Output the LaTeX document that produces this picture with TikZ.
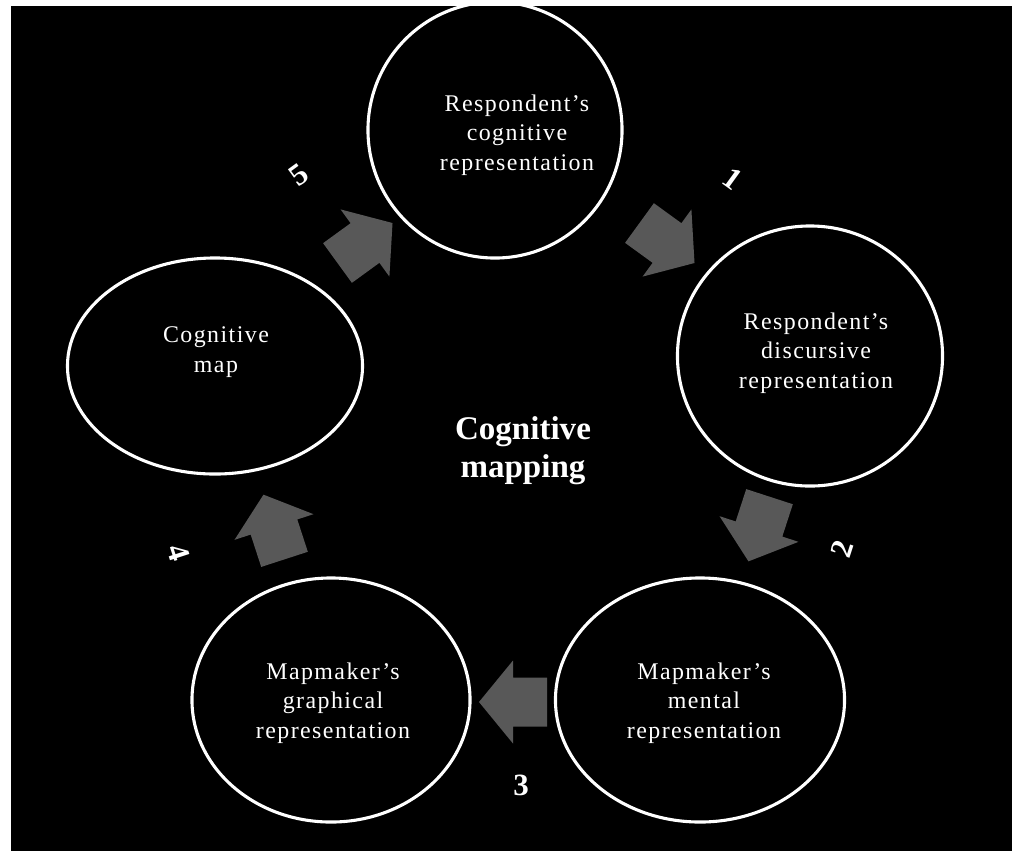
\documentclass[tikz,border=0pt]{standalone}
\usepackage{fontspec}
\setmainfont{Liberation Serif}
\newfontfamily\stagefont[LetterSpace=6]{Liberation Serif}
\usetikzlibrary{positioning,shapes.geometric}
\definecolor{arrowgrey}{RGB}{88,88,88}
\tikzset{
  stage/.style={draw=white, line width=2.2pt, shape=ellipse, inner sep=0pt},
  stagetext/.style={text=white, align=center, font=\stagefont\fontsize{17}{21}\selectfont},
  stepnum/.style={text=white, inner sep=0pt, font=\fontsize{22}{26}\selectfont\bfseries},
  cyclearrow/.pic={
    \fill[arrowgrey] (-0.85cm,-0.6125cm) -- (0cm,-0.6125cm) -- (0cm,-1.0375cm)
      -- (0.85cm,0cm) -- (0cm,1.0375cm) -- (0cm,0.6125cm) -- (-0.85cm,0.6125cm) -- cycle;
  }
}
\begin{document}
\begin{tikzpicture}[x=0.025cm, y=-0.025cm]

  % Background
  \fill[white] (0,0) rectangle (1012,851);
  \fill[black] (11,6) rectangle (1012,851);
  \useasboundingbox (0,0) rectangle (1012,851);

  % Stages
  \node[stage, minimum width=6.35cm, minimum height=6.4cm] (e1) at (495,130) {};
  \node[stagetext] (t1) at (517,135) {Respondent’s\\cognitive\\representation};

  \node[stage, minimum width=6.625cm, minimum height=6.5cm] (e2) at (810,356) {};
  \node[stagetext] (t2) at (816,353) {Respondent’s\\discursive\\representation};

  \node[stage, minimum width=7.225cm, minimum height=6.1cm] (e3) at (700,700) {};
  \node[stagetext] (t3) at (704,703) {Mapmaker’s\\mental\\representation};

  \node[stage, minimum width=6.95cm, minimum height=6.1cm] (e4) at (331,700) {};
  \node[stagetext] (t4) at (333,703) {Mapmaker’s\\graphical\\representation};

  \node[stage, minimum width=7.375cm, minimum height=5.4cm] (e5) at (215,366) {};
  \node[stagetext] (t5) at (216,352) {Cognitive\\map};

  % Centre
  \node[text=white, align=center, font=\fontsize{23.5}{27}\selectfont\bfseries] (mid) at (523,451) {Cognitive\\mapping};

  % Arrows
  \pic[rotate=-36] (a1) at (667,243) {cyclearrow};
  \pic[rotate=-108] (a2) at (759,529) {cyclearrow};
  \pic[rotate=180] (a3) at (513,702) {cyclearrow};
  \pic[rotate=108] (a4) at (274,527) {cyclearrow};
  \pic[rotate=36] (a5) at (365,243) {cyclearrow};

  % Step numbers
  \node[stepnum, rotate=-36] (n1) at (733,179) {1};
  \node[stepnum, rotate=72] (n2) at (842,549) {2};
  \node[stepnum] (n3) at (521,785) {3};
  \node[stepnum, rotate=-72] (n4) at (179,553) {4};
  \node[stepnum, rotate=36] (n5) at (299,175) {5};

\end{tikzpicture}
\end{document}
